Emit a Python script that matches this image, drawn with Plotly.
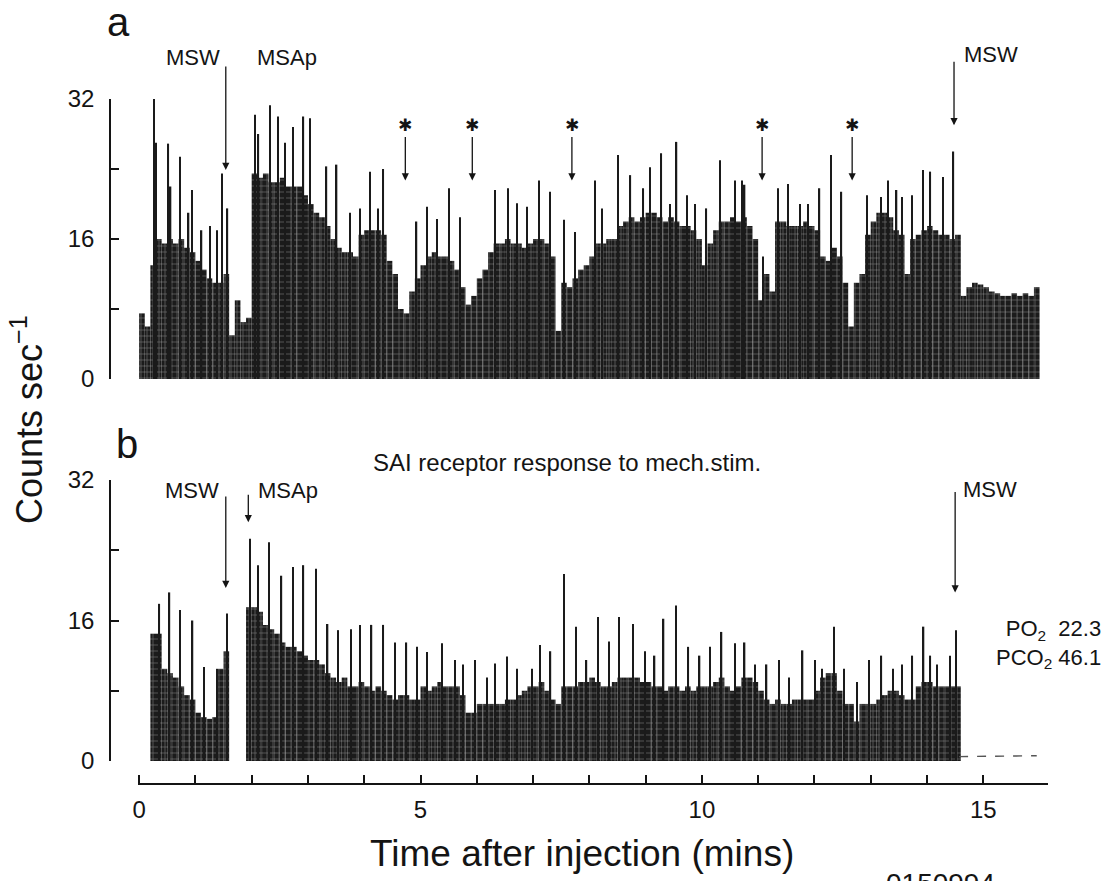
import plotly.graph_objects as go

# ---------------- data ----------------
# time bins (minutes), 0.1-min resolution, bin starts
bin_starts = [i / 10 for i in range(160)]

# panel a: body of rate histogram (counts/s) per 0.1-min bin
body_a = [7.5, 6, 13, 16, 15.5, 16, 15.5, 16, 15, 14.5, 13.5, 12.5, 11.5, 11, 11, 12, 5, 9, 6.5, 7,
          23.5, 23, 23.5, 22.5, 22.5, 23, 22, 22, 22, 21, 20, 19, 18.5, 17.5, 16, 15, 14.5, 14.5, 14, 16.5,
          17, 17, 17, 16.5, 13.5, 12, 8, 7.5, 10, 11.5, 13, 14, 14.5, 14, 14, 13.5, 12.5, 10.5, 8.5, 9.5,
          11.5, 12.5, 14.5, 15.5, 15.5, 16, 15.5, 15.5, 15, 15.5, 16, 16, 15.5, 14, 5.5, 11, 10.5, 11.5, 12.5, 13,
          14, 15.5, 15.5, 16, 16, 17.5, 18, 18.5, 18, 18.5, 19, 19, 18.5, 18, 18.5, 18, 17.5, 17.5, 17, 16,
          13, 15.5, 17, 18, 18, 18.5, 18, 18.5, 17.5, 16, 9, 12, 10, 18, 18, 17.5, 17.5, 17.5, 18, 17.5,
          17, 14, 13.5, 15, 14, 11, 6, 11, 12, 16.5, 18, 19, 19, 18.5, 17, 16.5, 12, 16, 16.5, 17,
          17.5, 17, 16.5, 16.5, 16, 16.5, 9.5, 10.5, 11, 10.8, 10.5, 10, 9.8, 9.5, 9.5, 9.8, 9.5, 9.8, 9.5, 10.5]

# panel a: narrow spikes (time in min, counts/s)
spike_a_t = [0.26, 0.30, 0.52, 0.56, 0.73, 0.88, 0.94, 1.11, 1.26, 1.39, 1.47, 1.57,
             2.06, 2.12, 2.33, 2.47, 2.59, 2.74, 2.92, 3.04, 3.33, 3.51, 3.75, 3.92, 4.10, 4.25, 4.34,
             4.93, 5.11, 5.29, 5.51, 5.70, 6.32, 6.56, 6.71, 6.89, 7.10, 7.30, 7.55, 7.75,
             8.10, 8.22, 8.51, 8.73, 8.96, 9.08, 9.28, 9.43, 9.55, 9.73, 9.88, 10.08, 10.32,
             10.59, 10.71, 10.76, 11.09, 11.35, 11.53, 11.74, 11.89, 12.09, 12.30, 12.48,
             12.94, 13.18, 13.31, 13.46, 13.55, 13.73, 13.93, 14.06, 14.28, 14.47]
spike_a_v = [32, 27, 26.9, 22, 25.4, 19, 21.6, 17, 17.5, 17, 23.5, 19.5,
             30.2, 28, 31.3, 30, 27, 28.8, 30, 29.8, 24.3, 24.5, 19, 19.5, 23.7, 19.5, 24,
             18, 19.7, 18.3, 21.8, 18.5, 21.6, 21.8, 20.1, 19.7, 22.7, 21.4, 18.2, 16.8,
             22.7, 19.5, 25.6, 23.3, 21.8, 24.2, 25.8, 20, 27.1, 21, 20, 19.5, 25,
             22.7, 22.7, 22.2, 14, 21.8, 22.3, 20, 20, 21.8, 25.6, 21.4,
             21, 20.8, 22.7, 21.6, 20.8, 21, 23.9, 23.7, 23.1, 26]

# panel b: body per 0.1-min bin
body_b = [0, 0, 14.5, 14.5, 10.5, 10, 9.5, 8.5, 7.5, 7, 5.5, 5, 4.8, 5, 10.5, 12.5, 0, 0, 0, 17.5,
          17.5, 17, 15.5, 15, 14.5, 13.5, 13, 13, 12.5, 12, 11.5, 11.5, 11, 10, 9.5, 9, 9.5, 8.5, 8.5, 9,
          8.5, 8, 8.5, 8, 7.5, 7, 7.5, 7.5, 7, 7, 8.5, 8, 8.5, 9, 8.5, 8.5, 8.5, 7.5, 5.5, 5.5,
          6.5, 6.5, 6.5, 6.5, 6.5, 7, 7, 7.5, 8, 8.5, 8.5, 9, 8, 7, 6.5, 8.5, 8.5, 8.5, 9, 9,
          9.5, 9, 8.5, 8.5, 9, 9.5, 9.5, 9.5, 9.5, 9, 9, 8.5, 8.5, 8, 8.5, 8.5, 8, 8.5, 8, 8.5,
          8.5, 8.5, 9, 9.5, 8.5, 8, 8.5, 9.5, 9.5, 9, 8, 7, 6.5, 7, 6.5, 6.5, 7, 7, 7, 7,
          8, 9.5, 10, 10, 8, 6.5, 6.5, 4.5, 6.5, 6.5, 6.5, 7, 7.5, 8, 8, 7.5, 7, 7, 8.5, 9,
          9, 8.5, 8.5, 8.5, 8.5, 8.5, 0, 0, 0, 0, 0, 0, 0, 0, 0, 0, 0, 0, 0, 0]

spike_b_t = [0.36, 0.54, 0.73, 0.95, 1.15, 1.39, 1.56, 1.97, 2.11, 2.31, 2.53, 2.73, 2.92, 3.14,
             3.35, 3.54, 3.76, 3.92, 4.13, 4.34, 4.55, 4.75, 4.94, 5.11, 5.38, 5.61, 5.75, 5.97,
             6.18, 6.32, 6.54, 6.72, 6.98, 7.12, 7.31, 7.55, 7.76, 7.95, 8.16, 8.35, 8.53, 8.78,
             8.99, 9.16, 9.32, 9.54, 9.76, 9.96, 10.14, 10.35, 10.59, 10.76, 10.94, 11.15, 11.37,
             11.55, 11.79, 12.01, 12.13, 12.35, 12.52, 12.76, 12.97, 13.19, 13.39, 13.55, 13.74,
             13.94, 14.06, 14.18, 14.41, 14.52]
spike_b_v = [17.9, 19.2, 17.2, 16, 10.7, 10.5, 16.8, 25.3, 22.3, 24.9, 21.1, 22.1, 22.3, 21.9,
             15.6, 14.9, 15, 15.5, 15.5, 15.5, 13.5, 13.5, 13, 12.4, 13.4, 11.5, 11, 11.5,
             9.5, 11.1, 11.9, 10.5, 10.5, 13.2, 12.5, 21.3, 15.3, 11.5, 16.4, 13.6, 16.4, 15.6,
             12.5, 12, 16.2, 17.7, 13, 12, 13, 14.7, 13.4, 13.5, 11, 11, 11.5,
             9.5, 12.6, 11.5, 10.5, 15.3, 10.5, 9, 11.5, 12, 10.5, 11, 12,
             15.3, 12, 11, 12, 14.9]

# panel b: near-zero trace after final MSW
tail_b_t = [14.57, 15.95]
tail_b_v = [0.5, 0.6]

# event markers (min) and arrow tip levels (counts/s)
stars_t = [4.73, 5.92, 7.69, 11.07, 12.67]
star_tip = 22.7

# axis ticks
y_major = [0, 16, 32]
y_minor = [8, 24]
x_major = [0, 5, 10, 15]
x_minor = [1, 2, 3, 4, 6, 7, 8, 9, 11, 12, 13, 14]

# ---------------- figure ----------------
FONT = "Liberation Sans, Arial, Helvetica, sans-serif"
INK = "#141414"
W, H = 1119, 881

def px_x(p):
    return p / W

def px_y(p):
    return 1 - p / H

fig = go.Figure()

body_marker = dict(color="#1b1b1b", line=dict(width=0),
                   pattern=dict(shape="+", fgcolor="#bdbdbd", size=6, solidity=0.22, fillmode="overlay"))

fig.add_trace(go.Bar(x=[t + 0.05 for t in bin_starts], y=body_a, width=0.1,
                     marker=body_marker, xaxis="x", yaxis="y", hoverinfo="skip"))
fig.add_trace(go.Bar(x=spike_a_t, y=spike_a_v, width=0.024, marker=dict(color="#1a1a1a", line=dict(width=0)),
                     xaxis="x", yaxis="y", hoverinfo="skip"))
fig.add_trace(go.Bar(x=[t + 0.05 for t in bin_starts], y=body_b, width=0.1,
                     marker=body_marker, xaxis="x2", yaxis="y2", hoverinfo="skip"))
fig.add_trace(go.Bar(x=spike_b_t, y=spike_b_v, width=0.024, marker=dict(color="#1a1a1a", line=dict(width=0)),
                     xaxis="x2", yaxis="y2", hoverinfo="skip"))
fig.add_trace(go.Scatter(x=tail_b_t, y=tail_b_v, mode="lines",
                         line=dict(color="#555", width=1.4, dash="dash"),
                         xaxis="x2", yaxis="y2", hoverinfo="skip"))
# carrier for the shared time axis
fig.add_trace(go.Scatter(x=[0], y=[0], mode="markers", marker=dict(opacity=0),
                         xaxis="x3", yaxis="y3", hoverinfo="skip"))

xdom = [px_x(138), px_x(1048)]
xr = [-0.02, 16.15]

tick_style = dict(ticks="inside", ticklen=8, tickwidth=1.5, tickcolor=INK)

yax_common = dict(range=[0, 32], anchor="free", position=px_x(110), showline=True, linecolor=INK,
                  linewidth=1.5, tickvals=y_major, tickfont=dict(family=FONT, size=24, color=INK),
                  minor=dict(tickvals=y_minor, showgrid=False, **tick_style),
                  showgrid=False, zeroline=False, ticklabelstandoff=10, fixedrange=True,
                  automargin=False, **tick_style)

fig.update_layout(
    template="none",
    width=W, height=H, margin=dict(l=0, r=0, t=0, b=0, pad=0, autoexpand=False),
    paper_bgcolor="white", plot_bgcolor="white", showlegend=False, barmode="overlay",
    font=dict(family=FONT, color=INK),
    xaxis=dict(domain=xdom, range=xr, anchor="y", visible=False, automargin=False),
    yaxis=dict(domain=[px_y(379), px_y(99)], **yax_common),
    xaxis2=dict(domain=xdom, range=xr, anchor="y2", visible=False, automargin=False),
    yaxis2=dict(domain=[px_y(761), px_y(480)], **yax_common),
    xaxis3=dict(domain=xdom, range=xr, anchor="y3", showline=True, linecolor=INK, linewidth=1.5,
                tickvals=x_major, tickfont=dict(family=FONT, size=24, color=INK),
                minor=dict(tickvals=x_minor, showgrid=False, **tick_style),
                showgrid=False, zeroline=False, ticklabelstandoff=4, automargin=False, **tick_style),
    yaxis3=dict(domain=[px_y(783), px_y(782)], anchor="x3", range=[0, 1], visible=False,
                automargin=False),
)

ann = []

def txt(text, xp, yp, size, **kw):
    d = dict(text=text, x=px_x(xp), y=px_y(yp), xref="paper", yref="paper", showarrow=False,
             xanchor="center", yanchor="middle",
             font=dict(family=FONT, size=size, color=INK))
    d.update(kw)
    ann.append(d)

def arrow(xr_, yr_, t, v, length, text="", size=18):
    ann.append(dict(text=text, x=t, y=v, xref=xr_, yref=yr_, showarrow=True, ax=0, ay=-length,
                    arrowhead=2, arrowsize=1.1, arrowwidth=1.3, arrowcolor=INK, standoff=0,
                    font=dict(family="DejaVu Sans, " + FONT, size=size, color=INK)))

# panel letters and labels
txt("a", 118, 22, 40)
txt("b", 127, 444, 40)
txt("SAI receptor response to mech.stim.", 567, 462, 24)
txt("Counts sec<sup>−1</sup>", 27, 420, 36, textangle=-90)
txt("Time after injection (mins)", 582, 853, 37)
txt("PO<sub>2</sub>  22.3<br>PCO<sub>2</sub> 46.1", 1103, 644, 22, xanchor="right", align="right")
txt("0150994", 940, 866, 28, yanchor="top")

# panel a event labels
txt("MSW", 193, 57, 22)
txt("MSAp", 287, 57, 22)
txt("MSW", 991, 55, 22)
arrow("x", "y", 1.54, 23.9, 105)
arrow("x", "y", 1.94, 32.1, 33)
arrow("x", "y", 14.48, 29.0, 65)
for t in stars_t:
    arrow("x", "y", t, star_tip, 55, text="✱", size=17)

# panel b event labels
txt("MSW", 192, 491, 22)
txt("MSAp", 288, 491, 22)
txt("MSW", 990, 489, 22)
arrow("x2", "y2", 1.54, 19.7, 93)
arrow("x2", "y2", 1.94, 27.2, 29)
arrow("x2", "y2", 14.50, 19.2, 102)

fig.update_layout(annotations=ann)
fig.write_html("out.html", config={"displayModeBar": False},
               post_script="document.body.style.margin='0';document.body.style.overflow='hidden';")
